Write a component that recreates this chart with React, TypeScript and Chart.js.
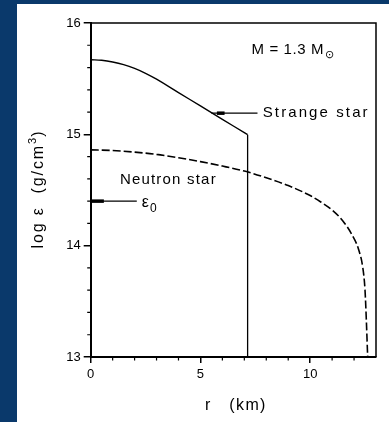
import React, { useEffect, useRef } from "react";
import { Chart, registerables } from "chart.js";

Chart.register(...registerables);

// ---- data ----
const strangeR = [0, 0.5, 1, 1.5, 2, 2.5, 3, 4, 5, 6, 7, 7.15];
const strangeLogEps = [15.67, 15.665, 15.65, 15.626, 15.592, 15.548, 15.495, 15.375, 15.255, 15.135, 15.015, 14.997];
const strangeSurfaceR = 7.15;

const neutronR = [0, 1, 2, 3, 4, 5, 6, 7, 8, 9, 10, 10.5, 11, 11.5, 11.9, 12.2, 12.4, 12.5, 12.56, 12.62];
const neutronLogEps = [14.86, 14.855, 14.84, 14.82, 14.79, 14.755, 14.715, 14.67, 14.61, 14.54, 14.45, 14.39, 14.32, 14.22, 14.1, 13.97, 13.8, 13.6, 13.33, 13.0];

const eps0 = 14.4;

const xTickValues = [0, 5, 10];
const yTickValues = [13, 14, 15, 16];
const xMinorTicks = [1, 2, 3, 4, 6, 7, 8, 9, 11, 12];
const yMinorTicks = [13.2, 13.4, 13.6, 13.8, 14.2, 14.4, 14.6, 14.8, 15.2, 15.4, 15.6, 15.8];

const X_MIN = 0;
const X_MAX = 13;
const Y_MIN = 13;
const Y_MAX = 16;

const FONT = "'Liberation Sans', Arial, Helvetica, sans-serif";

function drawText(ctx: CanvasRenderingContext2D, text: string, x: number, y: number, size: number, spacing: number) {
  ctx.font = `${size}px ${FONT}`;
  (ctx as any).letterSpacing = `${spacing}px`;
  ctx.fillText(text, x, y);
  const w = ctx.measureText(text).width;
  return w;
}

const annotations = {
  id: "annotations",
  afterDraw(chart: any) {
    const { ctx, chartArea: a, scales } = chart;
    const xs = scales.x;
    const ys = scales.y;
    const px = (v: number) => xs.getPixelForValue(v);
    const py = (v: number) => ys.getPixelForValue(v);
    ctx.save();
    ctx.strokeStyle = "#000";
    ctx.fillStyle = "#000";
    ctx.lineCap = "butt";

    // minor ticks (outward)
    ctx.lineWidth = 1.2;
    ctx.beginPath();
    for (const v of xMinorTicks) {
      const p = px(v);
      ctx.moveTo(p, a.bottom);
      ctx.lineTo(p, a.bottom + 3.5);
    }
    for (const v of yMinorTicks) {
      const p = py(v);
      ctx.moveTo(a.left - 3.5, p);
      ctx.lineTo(a.left, p);
    }
    ctx.stroke();

    // top and right frame
    ctx.lineWidth = 1.5;
    ctx.beginPath();
    ctx.moveTo(a.left, a.top);
    ctx.lineTo(a.right, a.top);
    ctx.lineTo(a.right, a.bottom);
    ctx.stroke();

    ctx.textAlign = "left";
    ctx.textBaseline = "alphabetic";

    // M = 1.3 M_sun
    let w = drawText(ctx, "M = 1.3 M", px(7.33), py(15.726), 15, 0.6);
    ctx.font = `11px ${FONT}`;
    (ctx as any).letterSpacing = "0px";
    ctx.fillText("\u2299", px(7.33) + w + 1, py(15.726) + 4);

    // Strange star pointer
    ctx.lineWidth = 1.2;
    ctx.beginPath();
    ctx.moveTo(px(5.5), py(15.19));
    ctx.lineTo(px(7.6), py(15.19));
    ctx.stroke();
    ctx.lineWidth = 3.5;
    ctx.beginPath();
    ctx.moveTo(px(5.75), py(15.19));
    ctx.lineTo(px(6.1), py(15.19));
    ctx.stroke();
    drawText(ctx, "Strange star", px(7.84), py(15.155), 15, 2.1);

    // Neutron star label
    drawText(ctx, "Neutron star", px(1.33), py(14.553), 15, 1.2);

    // epsilon_0 marker
    ctx.lineWidth = 1.2;
    ctx.beginPath();
    ctx.moveTo(a.left, py(eps0));
    ctx.lineTo(px(2.1), py(eps0));
    ctx.stroke();
    ctx.lineWidth = 3.5;
    ctx.beginPath();
    ctx.moveTo(a.left, py(eps0));
    ctx.lineTo(px(0.6), py(eps0));
    ctx.stroke();
    w = drawText(ctx, "\u03B5", px(2.33), py(14.347), 16, 0);
    drawText(ctx, "0", px(2.33) + w + 1, py(14.347) + 5, 12, 0);

    // x title
    drawText(ctx, "r   (km)", 188, 406, 16, 1.4);

    // y title (rotated)
    ctx.translate(26, 186);
    ctx.rotate(-Math.PI / 2);
    ctx.font = `16px ${FONT}`;
    (ctx as any).letterSpacing = "1.9px";
    const main = "log \u03B5  (g/cm";
    const mw = ctx.measureText(main).width;
    ctx.font = `11px ${FONT}`;
    (ctx as any).letterSpacing = "0px";
    const sw = ctx.measureText("3").width;
    ctx.font = `16px ${FONT}`;
    const cw = ctx.measureText(")").width;
    const total = mw + sw + 1 + cw;
    let x0 = -total / 2;
    (ctx as any).letterSpacing = "1.9px";
    ctx.fillText(main, x0, 0);
    x0 += mw;
    ctx.font = `11px ${FONT}`;
    (ctx as any).letterSpacing = "0px";
    ctx.fillText("3", x0, -7);
    x0 += sw + 1;
    ctx.font = `16px ${FONT}`;
    ctx.fillText(")", x0, 0);

    ctx.restore();
  },
};

export default function App() {
  const ref = useRef<HTMLCanvasElement | null>(null);

  useEffect(() => {
    if (!ref.current) return;
    const chart = new Chart(ref.current, {
      type: "scatter",
      data: {
        datasets: [
          {
            label: "Strange star",
            data: strangeR.map((r, i) => ({ x: r, y: strangeLogEps[i] })),
            showLine: true,
            borderColor: "#000",
            borderWidth: 1.4,
            pointRadius: 0,
            tension: 0.4,
          },
          {
            label: "Strange star surface",
            data: [
              { x: strangeSurfaceR, y: strangeLogEps[strangeLogEps.length - 1] },
              { x: strangeSurfaceR, y: Y_MIN },
            ],
            showLine: true,
            borderColor: "#000",
            borderWidth: 1.3,
            pointRadius: 0,
          },
          {
            label: "Neutron star",
            data: neutronR.map((r, i) => ({ x: r, y: neutronLogEps[i] })),
            showLine: true,
            borderColor: "#000",
            borderWidth: 1.6,
            borderDash: [8, 3],
            pointRadius: 0,
            cubicInterpolationMode: "monotone",
          },
        ],
      },
      options: {
        animation: false,
        responsive: false,
        events: [],
        layout: { padding: { top: 19, right: 13, left: 0, bottom: 0 } },
        plugins: {
          legend: { display: false },
          tooltip: { enabled: false },
        },
        scales: {
          x: {
            type: "linear",
            min: X_MIN,
            max: X_MAX,
            afterBuildTicks: (s: any) => {
              s.ticks = xTickValues.map((v) => ({ value: v }));
            },
            afterFit: (s: any) => {
              s.height = 65;
            },
            grid: { drawOnChartArea: false, tickLength: 6, color: "#000", lineWidth: 1.5 },
            border: { color: "#000", width: 2 },
            ticks: {
              color: "#000",
              font: { family: FONT, size: 13 },
              padding: 4,
              maxRotation: 0,
              autoSkip: false,
            },
          },
          y: {
            type: "linear",
            min: Y_MIN,
            max: Y_MAX,
            afterBuildTicks: (s: any) => {
              s.ticks = yTickValues.map((v) => ({ value: v }));
            },
            afterFit: (s: any) => {
              s.width = 73.7;
            },
            grid: { drawOnChartArea: false, tickLength: 7, color: "#000", lineWidth: 1.5 },
            border: { color: "#000", width: 2 },
            ticks: {
              color: "#000",
              font: { family: FONT, size: 13 },
              padding: 3,
              autoSkip: false,
            },
          },
        },
      },
      plugins: [annotations],
    } as any);
    return () => chart.destroy();
  }, []);

  return (
    <div
      style={{
        position: "absolute",
        left: 0,
        top: 0,
        width: 389,
        height: 422,
        background: "#0a396b",
        overflow: "hidden",
      }}
    >
      <div
        style={{
          position: "absolute",
          left: 17,
          top: 4,
          width: 372,
          height: 418,
          background: "#ffffff",
        }}
      >
        <canvas ref={ref} width={372} height={418} style={{ display: "block" }} />
      </div>
    </div>
  );
}
